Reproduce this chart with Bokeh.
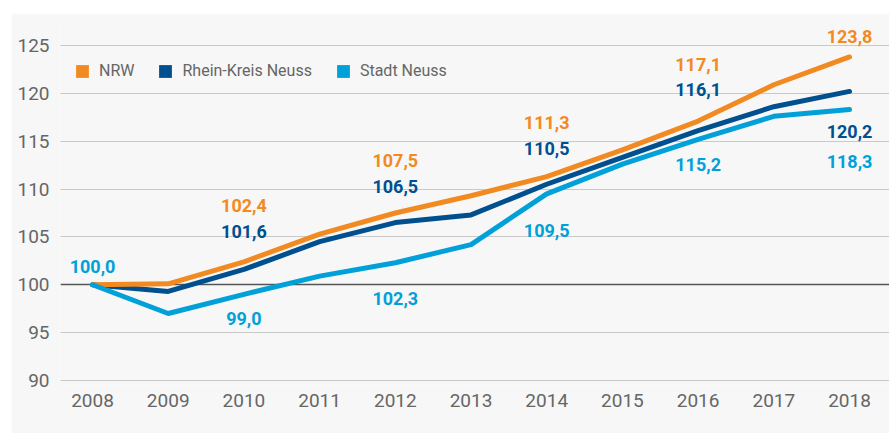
from bokeh.plotting import figure
from bokeh.models import Grid, Legend, LegendItem, FixedTicker, Range1d, Label
from bokeh.embed import file_html
from bokeh.resources import INLINE

# ---- data ----
years = [2008, 2009, 2010, 2011, 2012, 2013, 2014, 2015, 2016, 2017, 2018]
nrw = [100.0, 100.1, 102.4, 105.3, 107.5, 109.3, 111.3, 114.1, 117.1, 120.9, 123.8]
rhein_kreis = [100.0, 99.3, 101.6, 104.5, 106.5, 107.3, 110.5, 113.3, 116.1, 118.6, 120.2]
stadt = [100.0, 97.0, 99.0, 100.9, 102.3, 104.2, 109.5, 112.6, 115.2, 117.6, 118.3]
series_names = ["NRW", "Rhein-Kreis Neuss", "Stadt Neuss"]
y_ticks = [90, 95, 100, 105, 110, 115, 120, 125]
baseline = [100]

# years that carry a value label, per series
nrw_label_years = [2010, 2012, 2014, 2016, 2018]
rk_label_years = [2010, 2012, 2014, 2016, 2018]
stadt_label_years = [2008, 2010, 2012, 2014, 2016, 2018]

# ---- style ----
colors = ["#f28a22", "#004f8f", "#00a0d9"]
# pixel offsets of value labels (style, positive = down)
nrw_label_dy = [-56, -52, -54, -57, -20]
rk_label_dy = [-38, -36, -36, -41, 40]
stadt_label_dy = [-18, 24, 36, 37, 25, 52]

FONT = "Roboto"
BG = "#f7f7f7"
GRID_START = 2007.775   # where the horizontal rules begin (x units)

p = figure(width=878, height=420, output_backend="svg", toolbar_location=None,
           x_range=Range1d(2007.577, 2018.528), y_range=Range1d(89.58, 127.61),
           min_border_left=49, min_border_right=0, min_border_top=7, min_border_bottom=49)
p.margin = (13, 0, 0, 11)
p.background_fill_color = BG
p.border_fill_color = BG
p.outline_line_color = None

p.xgrid.grid_line_color = None
p.ygrid.grid_line_color = "#9a9a9a"
p.ygrid.grid_line_dash = "1 1"
p.ygrid.grid_line_width = 1
p.ygrid.ticker = FixedTicker(ticks=[t for t in y_ticks if t not in baseline])
p.ygrid.bounds = (GRID_START, 2019)

base_grid = Grid(dimension=1, ticker=FixedTicker(ticks=baseline),
                 grid_line_color="#555555", grid_line_width=1.5, bounds=(GRID_START, 2019))
p.add_layout(base_grid)

for ax in (p.xaxis[0], p.yaxis[0]):
    ax.axis_line_color = None
    ax.major_tick_line_color = None
    ax.minor_tick_line_color = None
    ax.major_tick_in = 0
    ax.major_tick_out = 0
    ax.major_label_text_font = FONT
    ax.major_label_text_font_size = "19px"
    ax.major_label_text_color = "#666666"
p.xaxis.ticker = FixedTicker(ticks=years)
p.yaxis.ticker = FixedTicker(ticks=y_ticks)
p.xaxis.major_label_standoff = 9
p.yaxis.major_label_standoff = 11

series = [nrw, rhein_kreis, stadt]
for idx in [1, 0, 2]:
    p.line(years, series[idx], line_color=colors[idx], line_width=5,
           line_cap="round", line_join="round")

label_sets = [(nrw, nrw_label_years, nrw_label_dy),
              (rhein_kreis, rk_label_years, rk_label_dy),
              (stadt, stadt_label_years, stadt_label_dy)]
for idx, (vals, lyears, dys) in enumerate(label_sets):
    for yr, dy in zip(lyears, dys):
        v = vals[years.index(yr)]
        p.add_layout(Label(x=yr, y=v, y_offset=-dy,
                           text=f"{v:.1f}".replace(".", ","),
                           text_color=colors[idx], text_font=FONT,
                           text_font_size="18px", text_font_style="bold",
                           text_align="center", text_baseline="middle"))

# legend proxies (square swatches): zero-area quads on the data, invisible in the plot
items = []
for idx, name in enumerate(series_names):
    r = p.quad(left=years, right=years, top=series[idx], bottom=series[idx],
               fill_color=colors[idx], line_color=None)
    items.append(LegendItem(label=name, renderers=[r]))

legend = Legend(items=items, orientation="horizontal", location=(14, 304),
                glyph_width=16, glyph_height=16, label_standoff=9, spacing=23,
                padding=0, margin=0, border_line_color=None, background_fill_alpha=0,
                label_text_font=FONT, label_text_font_size="16px",
                label_text_color="#666666")
p.add_layout(legend)

open("out.html", "w").write(file_html(p, INLINE))
